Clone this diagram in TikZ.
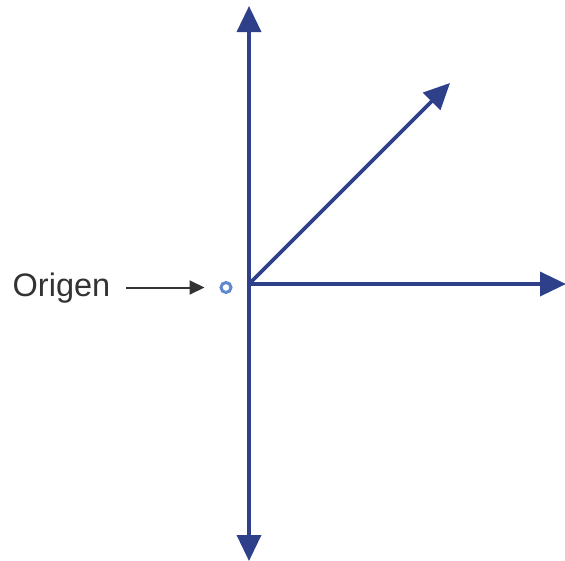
\documentclass[tikz,border=0pt]{standalone}
\usepackage{fontspec}
\setmainfont{Liberation Sans}
\usepackage{xcolor}
\usepackage{tikz}
\usetikzlibrary{positioning, arrows.meta}

\definecolor{axisblue}{RGB}{46,64,138}
\definecolor{dotblue}{RGB}{96,136,206}
\definecolor{labelgray}{RGB}{51,51,51}

\begin{document}
\begin{tikzpicture}[
    x=1pt, y=-1pt,
    axis/.style={draw=axisblue, line width=3.6pt, -{Triangle[length=26pt, width=24pt]}},
    pointer/.style={draw=labelgray, line width=2pt, -{Triangle[length=15pt, width=14pt]}},
    dot/.style={circle, draw=dotblue, line width=3pt, minimum size=10pt, inner sep=0pt}
]
\useasboundingbox (0,0) rectangle (565,560);

\coordinate (o) at (249,284);
\coordinate (top) at (249,6);
\coordinate (bottom) at (249,561);
\coordinate (right) at (566,284);
\coordinate (diag) at (450,83);

\node[dot] (origin) at (226,287.5) {};
\node[anchor=west, text=labelgray, font=\fontsize{32.5}{38}\selectfont, inner sep=0pt] (label) at (12.5,288.5) {Origen};

\draw[axis] (o) -- (top);
\draw[axis] (o) -- (bottom);
\draw[axis] (o) -- (right);
\draw[axis] (o) -- (diag);
\draw[pointer, shorten <=16pt, shorten >=15pt] (label.east |- origin) -- (origin.west);
\end{tikzpicture}
\end{document}
